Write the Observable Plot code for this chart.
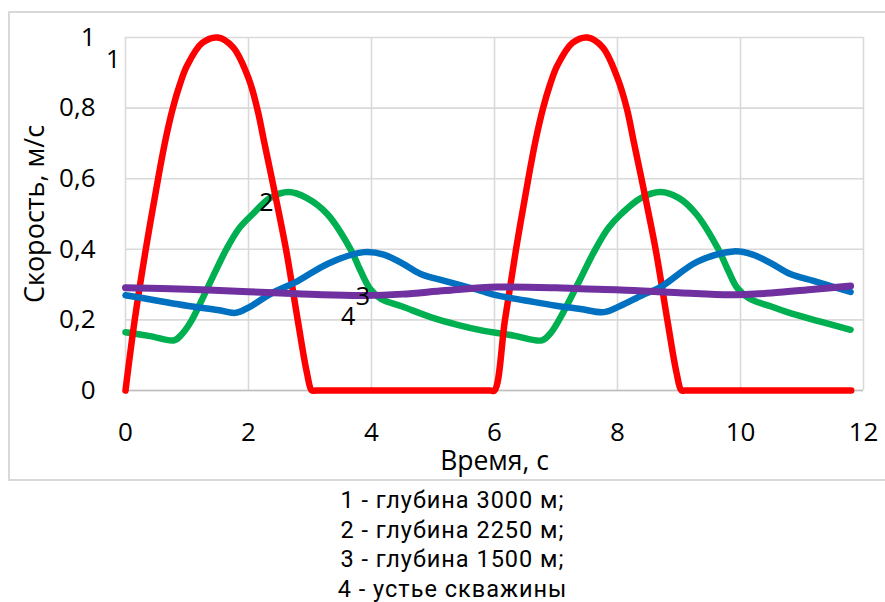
<!DOCTYPE html>
<html>
<head>
<meta charset="utf-8">
<script src="https://cdn.jsdelivr.net/npm/d3@7"></script>
<script src="https://cdn.jsdelivr.net/npm/@observablehq/plot@0.6"></script>
<style>
  html, body { margin: 0; padding: 0; background: #fff; }
  #wrap { position: relative; width: 885px; height: 602px; overflow: hidden; }
  #border { position: absolute; left: 8px; top: 11px; width: 890px; height: 470px; border: 2px solid #d9d9d9; box-sizing: border-box; }
  #chart { position: absolute; left: 0; top: 0; }
  #legend { position: absolute; left: 10px; top: 486px; width: 885px; text-align: center;
            font-family: Roboto, "Liberation Sans", sans-serif; font-size: 23.5px; letter-spacing: 1px; line-height: 29.6px; color: #000; }
</style>
</head>
<body>
<div id="wrap">
  <div id="border"></div>
  <div id="chart"></div>
  <div id="legend"></div>
</div>
<script>
// Series 1 – глубина 3000 м (red)
const s1T = [0, 0.15, 0.33, 0.53, 0.65, 0.77, 0.88, 1.0, 1.25, 1.5, 1.75, 2.0, 2.14, 2.26, 2.38, 2.61, 2.8, 2.95, 3.03, 3.1, 5.93,
             6.0, 6.17, 6.35, 6.55, 6.67, 6.79, 6.9, 7.02, 7.27, 7.51, 7.76, 8.0, 8.15, 8.27, 8.39, 8.62, 8.81, 8.96, 9.04, 9.1, 11.8];
const s1V = [0, 0.2, 0.4, 0.6, 0.71, 0.8, 0.865, 0.92, 0.985, 1.0, 0.972, 0.885, 0.8, 0.7, 0.6, 0.4, 0.2, 0.05, 0, 0, 0,
             0, 0.2, 0.4, 0.6, 0.71, 0.8, 0.865, 0.92, 0.985, 1.0, 0.972, 0.885, 0.8, 0.7, 0.6, 0.4, 0.2, 0.05, 0, 0, 0];

// Series 2 – глубина 2250 м (green)
const s2T = [0, 0.4, 0.79, 0.92, 1.08, 1.36, 1.64, 1.85, 2.07, 2.35, 2.65, 2.95, 3.28, 3.66, 3.82, 3.97, 4.15, 4.5, 4.96, 5.4, 5.77, 6.3,
             6.77, 6.9, 7.05, 7.35, 7.64, 7.85, 8.06, 8.38, 8.7, 9.0, 9.28, 9.64, 9.8, 9.95, 10.15, 10.5, 10.76, 11.3, 11.79];
const s2V = [0.165, 0.154, 0.142, 0.16, 0.2, 0.3, 0.4, 0.46, 0.5, 0.545, 0.562, 0.545, 0.5, 0.4, 0.34, 0.29, 0.26, 0.238, 0.208, 0.186, 0.171, 0.156,
             0.142, 0.16, 0.2, 0.3, 0.4, 0.46, 0.5, 0.545, 0.562, 0.545, 0.5, 0.4, 0.34, 0.29, 0.26, 0.238, 0.222, 0.195, 0.172];

// Series 3 – глубина 1500 м (blue)
const s3T = [0, 0.5, 1.0, 1.5, 1.79, 2.0, 2.36, 2.8, 3.3, 3.88, 4.2, 4.5, 4.8, 5.2, 5.77, 6.02, 6.5, 7.0, 7.4, 7.78,
             8.05, 8.4, 8.7, 9.3, 9.89, 10.2, 10.5, 10.81, 11.2, 11.79];
const s3V = [0.27, 0.255, 0.24, 0.228, 0.22, 0.235, 0.274, 0.31, 0.36, 0.392, 0.385, 0.36, 0.33, 0.31, 0.283, 0.27, 0.255, 0.24, 0.231, 0.222,
             0.24, 0.27, 0.293, 0.365, 0.394, 0.385, 0.36, 0.33, 0.31, 0.279];

// Series 4 – устье скважины (purple)
const s4T = [0, 1, 2, 2.52, 3.2, 3.9, 4.5, 5.2, 6.04, 7.0, 7.4, 8.05, 9.0, 9.84, 10.5, 11.2, 11.79];
const s4V = [0.291, 0.287, 0.28, 0.276, 0.271, 0.269, 0.273, 0.283, 0.293, 0.291, 0.288, 0.285, 0.277, 0.271, 0.276, 0.287, 0.296];

const xTicks = [0, 2, 4, 6, 8, 10, 12];
const yTicks = [0, 0.2, 0.4, 0.6, 0.8, 1];
const yTickLabels = ["0", "0,2", "0,4", "0,6", "0,8", "1"];

const seriesColors = ["#FF0000", "#00B050", "#0070C0", "#7030A0"];

// Series number labels (data coordinates)
const labelText = ["1", "2", "3", "4"];
const labelT = [-0.2, 2.29, 3.86, 3.62];
const labelV = [0.935, 0.53, 0.266, 0.207];

const legendLines = ["1 - глубина 3000 м;", "2 - глубина 2250 м;", "3 - глубина 1500 м;", "4 - устье скважины"];

const xTitle = "Время, с";
const yTitle = "Скорость, м/с";

const toRows = (T, V) => T.map((t, i) => ({t, v: V[i]}));
const s1 = toRows(s1T, s1V), s2 = toRows(s2T, s2V), s3 = toRows(s3T, s3V), s4 = toRows(s4T, s4V);
const labels = labelText.map((s, i) => ({s, t: labelT[i], v: labelV[i]}));

const font = "'Open Sans', Lato, sans-serif";
const lineOpts = (c, w) => ({x: "t", y: "v", stroke: c, strokeWidth: w, curve: "catmull-rom", strokeLinecap: "round", strokeLinejoin: "round"});

const plot = Plot.plot({
  width: 885,
  height: 482,
  marginLeft: 125,
  marginRight: 22,
  marginTop: 37,
  marginBottom: 92,
  style: {fontFamily: font, fontSize: "26px", color: "#000", background: "transparent", overflow: "visible"},
  x: {domain: [0, 12]},
  y: {domain: [0, 1]},
  marks: [
    Plot.gridX(xTicks, {stroke: "#d9d9d9", strokeOpacity: 1, strokeWidth: 1.6}),
    Plot.gridY(yTicks, {stroke: "#d9d9d9", strokeOpacity: 1, strokeWidth: 1.6}),
    Plot.ruleY([0], {stroke: "#bfbfbf", strokeWidth: 1.6}),
    Plot.axisX(xTicks, {tickSize: 0, tickPadding: 32, fontSize: 26, fill: "#000", label: null}),
    Plot.axisY(yTicks, {tickSize: 0, tickPadding: 30, fontSize: 26, fill: "#000", label: null,
      tickFormat: (d) => yTickLabels[yTicks.indexOf(d)]}),
    Plot.line(s2, lineOpts(seriesColors[1], 6.5)),
    Plot.line(s1, lineOpts(seriesColors[0], 6.5)),
    Plot.line(s3, lineOpts(seriesColors[2], 6.5)),
    Plot.line(s4, lineOpts(seriesColors[3], 7)),
    Plot.text(labels, {x: "t", y: "v", text: "s", fontSize: 25, fill: "#000", lineAnchor: "middle", clip: false}),
    Plot.text([xTitle], {frameAnchor: "bottom", dy: 71, fontSize: 26.5, fill: "#000", lineAnchor: "middle", textAnchor: "middle"}),
    Plot.text([yTitle], {frameAnchor: "left", dx: -90, rotate: -90, fontSize: 27, fill: "#000", lineAnchor: "middle", textAnchor: "middle"})
  ]
});
document.getElementById("chart").appendChild(plot);

const lg = document.getElementById("legend");
legendLines.forEach(s => { const d = document.createElement("div"); d.textContent = s; lg.appendChild(d); });
</script>
</body>
</html>
